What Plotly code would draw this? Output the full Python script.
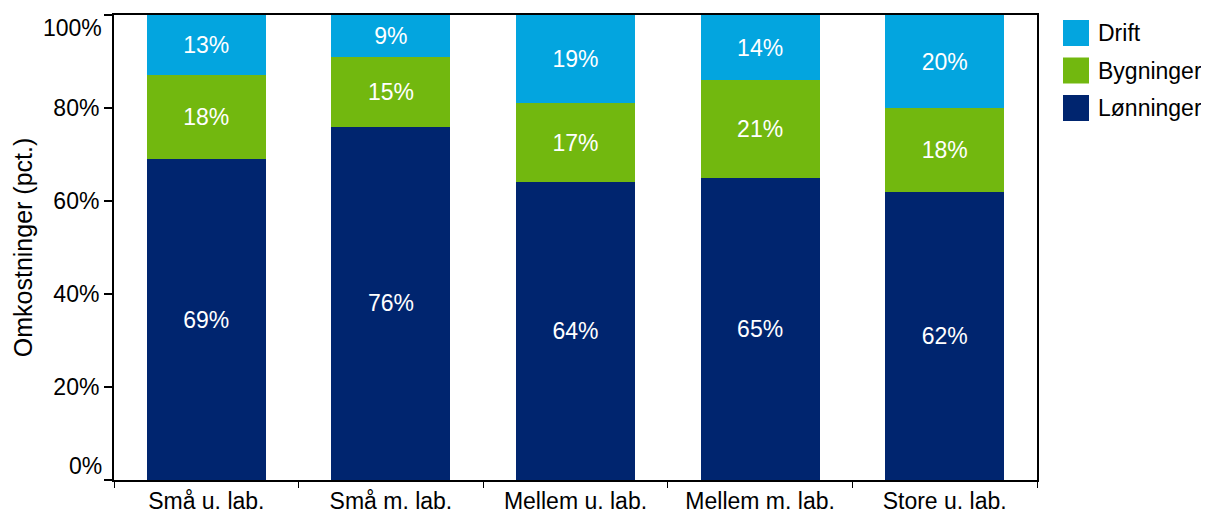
import plotly.graph_objects as go

categories = ["Små u. lab.", "Små m. lab.", "Mellem u. lab.", "Mellem m. lab.", "Store u. lab."]
lonninger = [69, 76, 64, 65, 62]
bygninger = [18, 15, 17, 21, 18]
drift = [13, 9, 19, 14, 20]
y_ticks = [0, 20, 40, 60, 80, 100]

series = [
    ("Lønninger", lonninger, "#00256F"),
    ("Bygninger", bygninger, "#72B80F"),
    ("Drift", drift, "#03A5DF"),
]

FONT = "Liberation Sans, Arial, sans-serif"
OFF = 8  # page body margin

fig = go.Figure()
for name, vals, color in series:
    fig.add_trace(go.Bar(
        name=name, x=categories, y=vals, marker=dict(color=color, line=dict(width=0)),
        text=[f"{v}%" for v in vals], textposition="inside", insidetextanchor="middle",
        textangle=0, constraintext="none",
        textfont=dict(color="white", size=23, family=FONT),
        hoverinfo="skip", showlegend=False,
    ))

# manual legend (top to bottom: Drift, Bygninger, Lønninger)
plot_h = 465.0
plot_w = 923.0
sq = 26.0
step = 37.5
for i, (name, vals, color) in enumerate(reversed(series)):
    top = 20 + i * step
    y1 = (480 - top) / plot_h
    y0 = (480 - top - sq) / plot_h
    x0 = (1063 - 114) / plot_w
    x1 = x0 + sq / plot_w
    fig.add_shape(type="rect", xref="paper", yref="paper", x0=x0, x1=x1, y0=y0, y1=y1,
                  fillcolor=color, line=dict(width=0))
    fig.add_annotation(xref="paper", yref="paper", x=(1096 - 114) / plot_w, y=(y0 + y1) / 2,
                       text=name, showarrow=False, xanchor="left", yanchor="middle",
                       font=dict(size=23, family=FONT, color="black"))

# end tick labels sit inside the axis span (as in the reference)
tick_text = [f"{v}%" for v in y_ticks]
for idx, shift in ((0, 14), (len(y_ticks) - 1, -13)):
    fig.add_annotation(xref="paper", yref="y", x=0, y=y_ticks[idx], text=tick_text[idx],
                       showarrow=False, xanchor="right", yanchor="middle",
                       xshift=-10, yshift=shift, font=dict(size=23, family=FONT, color="black"))
    tick_text[idx] = ""

fig.update_layout(
    barmode="stack",
    bargap=0.355,
    width=1209 - OFF, height=513 - OFF,
    margin=dict(l=114 - OFF, r=1209 - 1037, t=15 - OFF, b=513 - 480, autoexpand=False),
    plot_bgcolor="white", paper_bgcolor="white",
    font=dict(family=FONT, size=23, color="black"),
    showlegend=False,
    xaxis=dict(
        showline=True, linecolor="black", linewidth=1.5, mirror=True,
        ticks="outside", tickson="boundaries", ticklen=6, tickcolor="black", tickwidth=1,
        tickfont=dict(size=23), showgrid=False, automargin=False,
    ),
    yaxis=dict(
        range=[0, 100], tickvals=y_ticks, ticktext=tick_text,
        showline=True, linecolor="black", linewidth=2, mirror=True,
        ticks="outside", ticklen=8, tickcolor="black", tickwidth=1.5,
        tickfont=dict(size=23), showgrid=False, zeroline=False, automargin=False,
        title=dict(text="Omkostninger (pct.)", font=dict(size=25), standoff=14),
    ),
)

fig.write_html("out.html")
